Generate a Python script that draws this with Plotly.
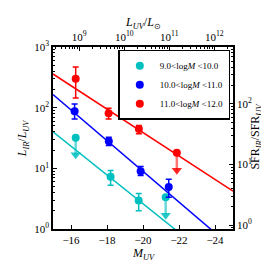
import numpy as np
import plotly.graph_objects as go

# ---------------- data ----------------
labels = ["9.0&lt;log<i>M</i> &lt;10.0", "10.0&lt;log<i>M</i> &lt;11.0", "11.0&lt;log<i>M</i> &lt;12.0"]
colors = ["#00BFBF", "#0000FF", "#FF0000"]
arrow_colors = ["rgba(0,191,191,0.6)", "rgba(0,0,255,0.6)", "rgba(255,0,0,0.55)"]

M_cyan = [-16.26, -18.2, -19.76, -21.26]
y_cyan = [32.0, 7.3, 2.94, 3.34]
hi_cyan = [None, 9.2, 3.83, None]
lo_cyan = [16.8, 5.25, 2.0, 1.69]
lim_cyan = [True, False, False, True]

M_blue = [-16.2, -18.1, -19.87, -21.43]
y_blue = [87.0, 28.0, 8.95, 4.94]
hi_blue = [115.0, 32.5, 10.7, 6.6]
lo_blue = [65.0, 23.7, 7.6, 3.34]
lim_blue = [False, False, False, False]

M_red = [-16.26, -18.09, -19.77, -21.88]
y_red = [300.0, 81.0, 44.6, 18.0]
hi_red = [468.0, 98.0, 51.0, None]
lo_red = [145.0, 65.0, 37.0, 9.3]
lim_red = [False, False, False, True]

line_M = [-15.0, -25.0]
line_cyan = [40.0, 0.17]
line_blue = [164.0, 0.483]
line_red = [359.0, 4.2]

x_ticks = [-16, -18, -20, -22, -24]
y_ticks = [1, 10, 100, 1000]
y_ticktext = ["10<sup>0</sup>", "10<sup>1</sup>", "10<sup>2</sup>", "10<sup>3</sup>"]
top_ticks = [1e9, 1e10, 1e11, 1e12]
top_ticktext = ["10<sup>9</sup>", "10<sup>10</sup>", "10<sup>11</sup>", "10<sup>12</sup>"]
right_ticks = [1, 10, 100]
right_ticktext = ["10<sup>0</sup>", "10<sup>1</sup>", "10<sup>2</sup>"]

MAG_ZP = 6.04          # M_UV = MAG_ZP - 2.5 log10(L_UV/Lsun)
SFR_FACTOR = 0.866     # SFR_IR/SFR_UV = factor * L_IR/L_UV

FONT = "Liberation Serif"

series = [
    (M_cyan, y_cyan, hi_cyan, lo_cyan, lim_cyan, line_cyan),
    (M_blue, y_blue, hi_blue, lo_blue, lim_blue, line_blue),
    (M_red, y_red, hi_red, lo_red, lim_red, line_red),
]

fig = go.Figure()

# fit lines
for (M, y, hi, lo, lim, ln), c in zip(series, colors):
    fig.add_trace(go.Scatter(x=line_M, y=ln, mode="lines",
                             line=dict(color=c, width=1.5),
                             showlegend=False, hoverinfo="skip"))

# upper-limit arrows
for (M, y, hi, lo, lim, ln), c, ac in zip(series, colors, arrow_colors):
    xm = [m for m, l in zip(M, lim) if l]
    if not xm:
        continue
    yv = [v for v, l in zip(y, lim) if l]
    yl = [v for v, l in zip(lo, lim) if l]
    fig.add_trace(go.Scatter(
        x=xm, y=yv, mode="markers", marker=dict(size=8, color=c),
        error_y=dict(type="data", symmetric=False, array=[0] * len(xm),
                     arrayminus=[a - b for a, b in zip(yv, yl)],
                     color=ac, thickness=2.5, width=0),
        showlegend=False, hoverinfo="skip"))
    fig.add_trace(go.Scatter(
        x=xm, y=yl, mode="markers",
        marker=dict(symbol="triangle-down", size=9, color=c, opacity=0.85,
                    line=dict(width=0)),
        showlegend=False, hoverinfo="skip"))

# detections with error bars (these carry the legend)
for (M, y, hi, lo, lim, ln), c, lab in zip(series, colors, labels):
    xd = [m for m, l in zip(M, lim) if not l]
    yd = [v for v, l in zip(y, lim) if not l]
    hd = [h for h, l in zip(hi, lim) if not l]
    ld = [v for v, l in zip(lo, lim) if not l]
    fig.add_trace(go.Scatter(
        x=xd, y=yd, mode="markers", name=lab,
        marker=dict(size=8, color=c),
        error_y=dict(type="data", symmetric=False,
                     array=[h - v for h, v in zip(hd, yd)],
                     arrayminus=[v - l for v, l in zip(yd, ld)],
                     color=c, thickness=1.5, width=3),
        showlegend=True, hoverinfo="skip"))

# invisible trace so that the top/right axes exist
fig.add_trace(go.Scatter(x=[1e10], y=[10], xaxis="x2", yaxis="y2",
                         mode="markers", marker=dict(opacity=0),
                         showlegend=False, hoverinfo="skip"))

def minor_vals(lo_dec, hi_dec):
    return [k * 10.0 ** d for d in range(lo_dec, hi_dec) for k in range(2, 10)]

tickfont = dict(family=FONT, size=11, color="black")
axline = dict(showline=True, linecolor="black", linewidth=1.5, showgrid=False,
              zeroline=False, ticks="inside", tickcolor="black", tickwidth=1,
              ticklen=4, tickfont=tickfont)

fig.update_layout(
    width=269, height=261,
    margin=dict(l=45, r=44, t=39, b=40),
    paper_bgcolor="white", plot_bgcolor="white",
    font=dict(family=FONT, size=11, color="black"),
    xaxis=dict(range=[-15, -25], tickmode="array", tickvals=x_ticks,
               ticktext=["\u2212" + str(abs(t)) for t in x_ticks], **axline),
    xaxis2=dict(overlaying="x", side="top", type="log",
                range=[(MAG_ZP + 15) / 2.5, (MAG_ZP + 25) / 2.5],
                tickmode="array", tickvals=top_ticks, ticktext=top_ticktext,
                minor=dict(ticks="inside", ticklen=2, tickcolor="black",
                           tickmode="array", tickvals=minor_vals(8, 13)),
                **axline),
    yaxis=dict(type="log", range=[0, 3], tickmode="array", tickvals=y_ticks,
               ticktext=y_ticktext,
               minor=dict(ticks="inside", ticklen=2, tickcolor="black",
                          tickmode="array", tickvals=minor_vals(0, 3)),
               **axline),
    yaxis2=dict(overlaying="y", side="right", type="log",
                range=[np.log10(SFR_FACTOR), 3 + np.log10(SFR_FACTOR)],
                tickmode="array", tickvals=right_ticks, ticktext=right_ticktext,
                minor=dict(ticks="inside", ticklen=2, tickcolor="black",
                           tickmode="array", tickvals=minor_vals(-1, 3)),
                **axline),
    legend=dict(x=0.985, y=0.985, xanchor="right", yanchor="top",
                bgcolor="white", bordercolor="black", borderwidth=1.5,
                font=dict(family=FONT, size=9, color="black"),
                tracegroupgap=0, itemwidth=30),
    showlegend=True,
)

ann_font = dict(family=FONT, size=12, color="black")
fig.add_annotation(text="<i>M</i><sub><i>UV</i></sub>", xref="paper", yref="paper",
                   x=0.5, y=-0.135, showarrow=False, font=ann_font,
                   xanchor="center", yanchor="middle")
fig.add_annotation(text="<i>L</i><sub><i>UV</i></sub>/<i>L</i><sub>\u2299</sub>",
                   xref="paper", yref="paper", x=0.5, y=1.13, showarrow=False,
                   font=ann_font, xanchor="center", yanchor="middle")
fig.add_annotation(text="<i>L</i><sub><i>IR</i></sub>/<i>L</i><sub><i>UV</i></sub>",
                   xref="paper", yref="paper", x=-0.165, y=0.5, showarrow=False,
                   font=ann_font, textangle=-90, xanchor="center", yanchor="middle")
fig.add_annotation(text="SFR<sub><i>IR</i></sub>/SFR<sub><i>UV</i></sub>",
                   xref="paper", yref="paper", x=1.13, y=0.51, showarrow=False,
                   font=dict(family=FONT, size=12, color="black"),
                   textangle=-90, xanchor="center", yanchor="middle")

fig.write_html("out.html")
